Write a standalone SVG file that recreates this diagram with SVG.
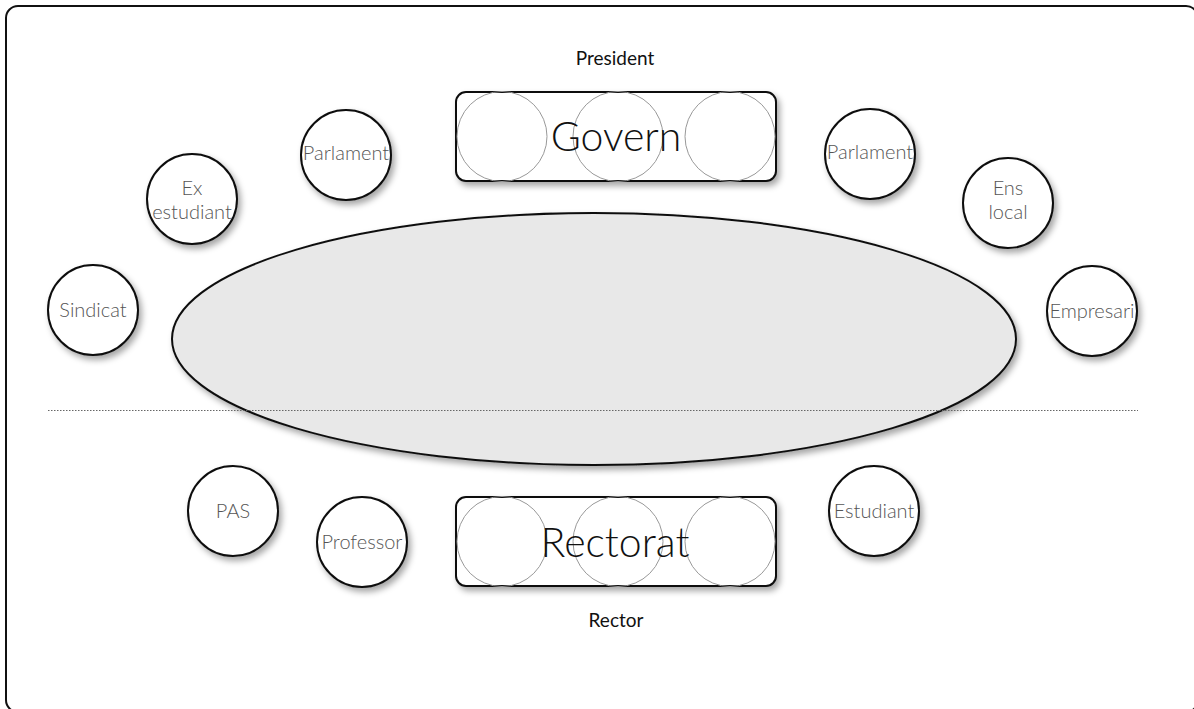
<svg xmlns="http://www.w3.org/2000/svg" width="1194" height="709" viewBox="0 0 1194 709">
  <defs>
    <filter id="shadow" x="-30%" y="-30%" width="160%" height="160%">
      <feDropShadow dx="3" dy="4" stdDeviation="3" flood-color="#000" flood-opacity="0.35"/>
    </filter>
    <style>
      .seat { fill: #fff; stroke: #111; stroke-width: 2; filter: url(#shadow); }
      .bench { fill: #fff; stroke: #111; stroke-width: 2; filter: url(#shadow); }
      .chair { fill: none; stroke: #999; stroke-width: 1; }
      .lbl { font-family: Lato, "Liberation Sans", sans-serif; font-weight: 300; font-size: 20px; fill: #555; text-anchor: middle; }
      .big { font-family: Lato, "Liberation Sans", sans-serif; font-weight: 300; font-size: 41px; fill: #111; text-anchor: middle; }
      .role { font-family: Lato, "Liberation Sans", sans-serif; font-weight: 400; font-size: 19px; fill: #111; text-anchor: middle; }
    </style>
  </defs>

  <rect width="1194" height="709" fill="#fff"/>
  <!-- frame -->
  <rect x="6" y="6" width="1192" height="706" rx="12" fill="none" stroke="#111" stroke-width="2"/>

  <!-- table -->
  <g id="table">
    <ellipse cx="594" cy="339" rx="422" ry="126" fill="#e8e8e8" stroke="#111" stroke-width="2" filter="url(#shadow)"/>
  </g>

  <!-- divider -->
  <g id="connectors">
    <line x1="48" y1="410.5" x2="1138" y2="410.5" stroke="#666" stroke-width="1" stroke-dasharray="1.5,1.5"/>
  </g>

  <!-- government bench -->
  <g id="govern">
    <rect class="bench" x="456" y="92" width="320" height="89" rx="10"/>
    <circle class="chair" cx="502" cy="136.5" r="45"/>
    <circle class="chair" cx="618" cy="136.5" r="45"/>
    <circle class="chair" cx="730" cy="136.5" r="45"/>
    <text class="big" x="616" y="151">Govern</text>
  </g>
  <text id="president" class="role" x="615" y="65">President</text>

  <!-- rectorate bench -->
  <g id="rectorat">
    <rect class="bench" x="456" y="497" width="320" height="89" rx="10"/>
    <circle class="chair" cx="502" cy="541.5" r="45"/>
    <circle class="chair" cx="618" cy="541.5" r="45"/>
    <circle class="chair" cx="730" cy="541.5" r="45"/>
    <text class="big" x="615" y="557">Rectorat</text>
  </g>
  <text id="rector" class="role" x="616" y="627">Rector</text>

  <!-- seats -->
  <g id="parlament-left">
    <circle class="seat" cx="346" cy="155" r="45"/>
    <text class="lbl" x="346" y="160">Parlament</text>
  </g>
  <g id="ex-estudiant">
    <circle class="seat" cx="192" cy="199" r="45"/>
    <text class="lbl" x="192" y="195">Ex</text>
    <text class="lbl" x="192" y="219">estudiant</text>
  </g>
  <g id="sindicat">
    <circle class="seat" cx="93" cy="310" r="45"/>
    <text class="lbl" x="93" y="317">Sindicat</text>
  </g>
  <g id="parlament-right">
    <circle class="seat" cx="870" cy="154" r="45"/>
    <text class="lbl" x="870" y="159">Parlament</text>
  </g>
  <g id="ens-local">
    <circle class="seat" cx="1008" cy="203" r="45"/>
    <text class="lbl" x="1008" y="195">Ens</text>
    <text class="lbl" x="1008" y="219">local</text>
  </g>
  <g id="empresari">
    <circle class="seat" cx="1092" cy="311" r="45"/>
    <text class="lbl" x="1092" y="318">Empresari</text>
  </g>
  <g id="pas">
    <circle class="seat" cx="233" cy="511" r="45"/>
    <text class="lbl" x="233" y="518">PAS</text>
  </g>
  <g id="professor">
    <circle class="seat" cx="362" cy="542" r="45"/>
    <text class="lbl" x="362" y="549">Professor</text>
  </g>
  <g id="estudiant">
    <circle class="seat" cx="874" cy="511" r="45"/>
    <text class="lbl" x="874" y="518">Estudiant</text>
  </g>
</svg>
